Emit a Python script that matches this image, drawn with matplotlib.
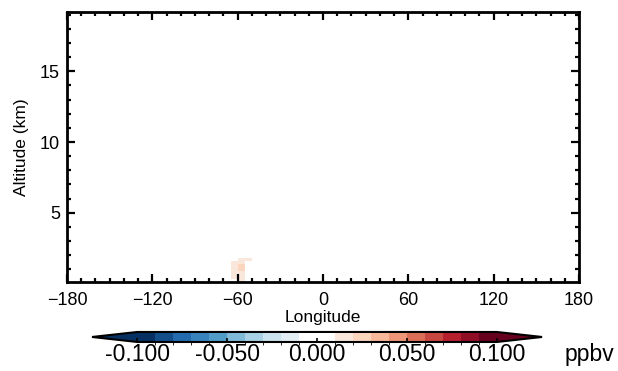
import numpy as np
import matplotlib
matplotlib.use("Agg")
import matplotlib.pyplot as plt
from matplotlib.colors import ListedColormap, BoundaryNorm

plt.rcParams['font.family'] = ['Liberation Sans', 'DejaVu Sans']

# grid edges of the small non-zero patch (rest of the domain is zero)
lon_edges = [-65, -60, -55, -50]
alt_edges = [0.1, 0.3, 0.87, 1.34, 1.57, 1.81]
# difference values (ppbv), rows from the ground up
diff = np.array([
    [0.000, 0.015, 0.000],
    [0.015, 0.015, 0.000],
    [0.015, 0.025, 0.000],
    [0.015, 0.015, 0.000],
    [0.000, 0.015, 0.015],
])

levels = np.linspace(-0.1, 0.1, 21)
cbar_ticks = [-0.1, -0.05, 0.0, 0.05, 0.1]
xticks = [-180, -120, -60, 0, 60, 120, 180]
yticks = [5, 10, 15]

# 20 bins, the two around zero are white
base = plt.get_cmap('RdBu_r')
pos = np.concatenate([np.linspace(0.0, 0.5, 10), np.linspace(0.5, 1.0, 10)])
cols = base(pos)
cols[9] = [1, 1, 1, 1]
cols[10] = [1, 1, 1, 1]
cmap = ListedColormap(cols)
cmap.set_under(base(0.0))
cmap.set_over(base(1.0))
norm = BoundaryNorm(levels, cmap.N)

fig = plt.figure(figsize=(6.18, 3.71), dpi=100)
ax = fig.add_axes([0.1084, 0.2399, 0.8286, 0.7278])

masked = np.ma.masked_where(diff == 0, diff)
ax.pcolormesh(lon_edges, alt_edges, masked, cmap=cmap, norm=norm)

ax.set_xlim(-180, 180)
ax.set_ylim(0.1, 19.2)
ax.set_xticks(xticks)
ax.set_yticks(yticks)
ax.set_xticks(np.arange(-180, 181, 10), minor=True)
ax.set_yticks(np.arange(1, 19.1, 1), minor=True)
ax.tick_params(which='both', direction='in', top=True, right=True, width=1.6, labelsize=13)
ax.tick_params(axis='x', which='major', length=5.5, pad=7)
ax.tick_params(axis='y', which='major', length=5.5, pad=5)
ax.tick_params(which='minor', length=2.8)
for s in ax.spines.values():
    s.set_linewidth(2)
ax.set_xlabel('Longitude', fontsize=12.5, labelpad=1)
ax.set_ylabel('Altitude (km)', fontsize=12.5, labelpad=8)

cax = fig.add_axes([0.1489, 0.0782, 0.7282, 0.027])
sm = matplotlib.cm.ScalarMappable(norm=norm, cmap=cmap)
cb = fig.colorbar(sm, cax=cax, orientation='horizontal', extend='both',
                  extendfrac=0.126, ticks=cbar_ticks, format='%.3f', drawedges=False)
cb.outline.set_linewidth(1.5)
cax.tick_params(direction='in', length=3, width=1.2, labelsize=16.5, pad=1, colors='black')
fig.text(0.914, 0.027, 'ppbv', fontsize=16.5, ha='left')

fig.savefig('out.png', dpi=100)
